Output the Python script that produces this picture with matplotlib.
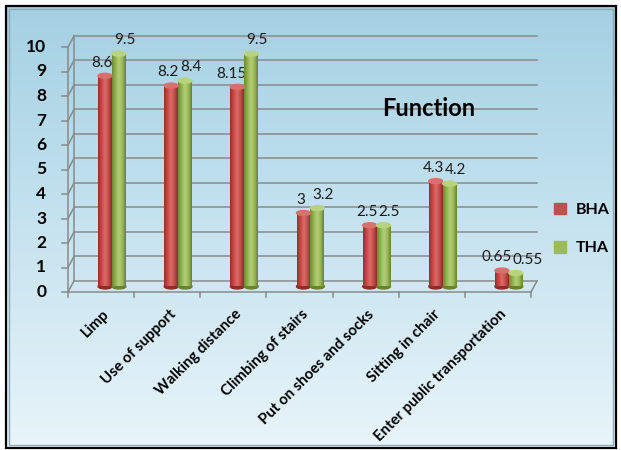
import numpy as np
import matplotlib.pyplot as plt
from matplotlib.colors import LinearSegmentedColormap
from matplotlib.patches import Ellipse, Rectangle, Patch

plt.rcParams['font.family'] = ['Lato', 'DejaVu Sans']

# data
categories = ['Limp', 'Use of support', 'Walking distance', 'Climbing of stairs',
              'Put on shoes and socks', 'Sitting in chair', 'Enter public transportation']
bha = [8.6, 8.2, 8.15, 3, 2.5, 4.3, 0.65]
tha = [9.5, 8.4, 9.5, 3.2, 2.5, 4.2, 0.55]
bha_labels = ['8.6', '8.2', '8.15', '3', '2.5', '4.3', '0.65']
tha_labels = ['9.5', '8.4', '9.5', '3.2', '2.5', '4.2', '0.55']
yticks = list(range(0, 11))

fig = plt.figure(figsize=(6.21, 4.5), dpi=100)

# background panel with gradient
bg = fig.add_axes([0, 0, 1, 1])
bg.set_xlim(0, 621)
bg.set_ylim(450, 0)
bg.axis('off')
grad = np.linspace(0, 1, 256).reshape(-1, 1)
bg_cmap = LinearSegmentedColormap.from_list('bg', ['#a4d0e3', '#c6e3ef', '#e8f4fa'])
bg.imshow(grad, extent=[6, 616, 448, 6], aspect='auto', cmap=bg_cmap, zorder=0)
bg.add_patch(Rectangle((6, 6), 610, 442, fill=False, ec='black', lw=1.6, zorder=2))
bg.add_patch(Rectangle((9, 9), 604, 436, fill=False, ec='#8fa9b5', lw=1.0, zorder=2))

ax = fig.add_axes([68 / 621, 158 / 450, 463 / 621, 245 / 450])
ax.set_xlim(0, 7)
ax.set_ylim(0, 10)
ax.axis('off')

n = len(categories)
dx, dy = 0.09, 0.45   # depth offset of back wall
grid_c = '#8a8a8a'

# back wall gridlines + left wall
for v in yticks:
    ax.plot([dx, n + dx], [v + dy, v + dy], color=grid_c, lw=1.1, clip_on=False, zorder=1)
    ax.plot([0, dx], [v, v + dy], color=grid_c, lw=1.1, clip_on=False, zorder=1)
    ax.plot([-0.09, 0], [v, v], color=grid_c, lw=1.1, clip_on=False, zorder=1)
    ax.text(-0.33, v, str(v), ha='right', va='center', fontsize=12.5,
            fontweight='bold', color='black')
ax.plot([0, 0], [0, 10], color=grid_c, lw=1.1, clip_on=False, zorder=1)
ax.plot([dx, dx], [dy, 10 + dy], color=grid_c, lw=1.1, clip_on=False, zorder=1)

# floor
ax.plot([0, n], [0, 0], color=grid_c, lw=1.1, clip_on=False, zorder=1)
ax.plot([n, n + dx], [0, dy], color=grid_c, lw=1.1, clip_on=False, zorder=1)
for i in range(n + 1):
    ax.plot([i, i], [0, -0.22], color=grid_c, lw=1.1, clip_on=False, zorder=1)

# cylinders
red_cmap = LinearSegmentedColormap.from_list('r', ['#97302d', '#c84743', '#dc6b67', '#c0504d', '#8f2b28'])
green_cmap = LinearSegmentedColormap.from_list('g', ['#6d8834', '#92b351', '#b3cf77', '#9bbb59', '#68822f'])
hgrad = np.linspace(0, 1, 64).reshape(1, -1)
w = 0.21
base = dy / 2
eh = 0.2


def cylinder(xc, h, cmap, top_c, bot_c):
    x0, x1 = xc - w / 2, xc + w / 2
    ax.add_patch(Ellipse((xc, base), w, eh, color=bot_c, zorder=3, clip_on=False))
    ax.imshow(hgrad, extent=[x0, x1, base, base + h], aspect='auto', cmap=cmap,
              zorder=4, clip_on=False)
    ax.add_patch(Ellipse((xc, base + h), w, eh, color=top_c, zorder=5, clip_on=False))


for i in range(n):
    xr = i + 0.56
    xg = i + 0.77
    cylinder(xr, bha[i], red_cmap, '#d9706c', '#8f2b28')
    cylinder(xg, tha[i], green_cmap, '#b8d37e', '#68822f')
    rshift = -2 - 2 * max(len(bha_labels[i]) - 3, 0)
    ax.annotate(bha_labels[i], (xr, base + bha[i]), xytext=(rshift, 4.5), textcoords='offset points',
                ha='center', va='bottom', fontsize=11, color='#1a1a1a')
    gshift = 4 + 4.5 * max(len(tha_labels[i]) - 3, 0)
    ax.annotate(tha_labels[i], (xg, base + tha[i]), xytext=(gshift, 4.5), textcoords='offset points',
                ha='center', va='bottom', fontsize=11, color='#1a1a1a')
    ax.text(i + 0.52, -0.62, categories[i], rotation=45, ha='right', va='top',
            rotation_mode='anchor', fontsize=10.8, fontweight='bold')

ax.set_xlim(0, 7)
ax.set_ylim(0, 10)

ax.text(5.45, 7.5, 'Function', ha='center', va='center', fontsize=17, fontweight='bold')

handles = [Patch(color='#c0504d'), Patch(color='#9bbb59')]
fig.legend(handles, ['BHA', 'THA'], loc='center left', bbox_to_anchor=(540 / 621, 1 - 229 / 450),
           frameon=False, handlelength=0.75, handleheight=0.75, handletextpad=0.6,
           labelspacing=1.5, prop={'weight': 'bold', 'size': 11.5})

fig.savefig('out.png', dpi=100)
